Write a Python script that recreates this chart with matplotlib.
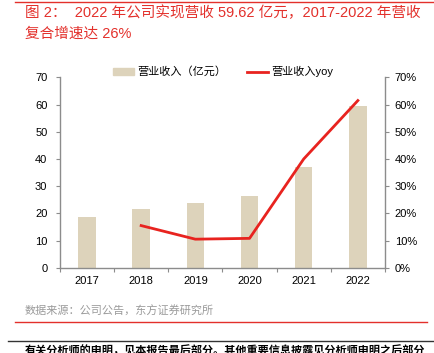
import matplotlib
matplotlib.use("Agg")
import matplotlib.pyplot as plt
from matplotlib.lines import Line2D
from matplotlib.ticker import PercentFormatter

plt.rcParams['font.family'] = ['Liberation Sans', 'Noto Sans CJK SC', 'DejaVu Sans']

# ---- Data ----
years = ['2017', '2018', '2019', '2020', '2021', '2022']
revenue = [18.6, 21.5, 23.8, 26.4, 36.9, 59.62]          # 亿元
yoy_years = ['2018', '2019', '2020', '2021', '2022']
yoy = [15.5, 10.5, 10.8, 40.0, 61.5]                      # %

title_lines = ['图 2：  2022 年公司实现营收 59.62 亿元，2017-2022 年营收',
               '复合增速达 26%']
source = '数据来源：公司公告，东方证券研究所'
footer = '有关分析师的申明，见本报告最后部分。其他重要信息披露见分析师申明之后部分'

bar_color = '#ddd3bb'
line_color = '#e8231f'
spine_color = '#8c8c8c'

# ---- Figure ----
fig = plt.figure(figsize=(4.34, 3.53), dpi=100)
ax = fig.add_axes([0.138, 0.2416, 0.749, 0.539])

x = list(range(len(years)))
ax.bar(x, revenue, width=0.32, color=bar_color, label='营业收入（亿元）', zorder=2)
ax.set_xlim(-0.5, len(years) - 0.5)
ax.set_ylim(0, 70)
ax.set_yticks(range(0, 71, 10))
ax.set_xticks([i - 0.5 for i in range(len(years) + 1)], minor=False)
ax.set_xticklabels([])
ax.set_xticks(x, minor=True)
ax.set_xticklabels(years, minor=True)
ax.tick_params(axis='x', which='minor', length=0, labelsize=8, pad=6)
ax.tick_params(axis='x', which='major', length=3, direction='out', color=spine_color)
ax.tick_params(axis='y', length=3, labelsize=8, color=spine_color, pad=6)

ax2 = ax.twinx()
yx = [years.index(y) for y in yoy_years]
ax2.plot(yx, yoy, color=line_color, lw=2, label='营业收入yoy', zorder=3)
ax2.set_ylim(0, 70)
ax2.set_yticks(range(0, 71, 10))
ax2.yaxis.set_major_formatter(PercentFormatter(decimals=0))
ax2.tick_params(axis='y', length=3, labelsize=8, color=spine_color, pad=4)

for a in (ax, ax2):
    a.spines['top'].set_visible(False)
    for s in ('left', 'right', 'bottom'):
        a.spines[s].set_color(spine_color)
        a.spines[s].set_linewidth(1.0)
ax.spines['right'].set_visible(False)
ax2.spines['left'].set_visible(False)
ax2.spines['bottom'].set_visible(False)

# ---- Legend ----
handles = [plt.Rectangle((0, 0), 1, 1, color=bar_color),
           Line2D([0], [0], color=line_color, lw=2)]
fig.legend(handles, ['营业收入（亿元）', '营业收入yoy'], loc='center',
           bbox_to_anchor=(0.514, 0.797), ncol=2, frameon=False, fontsize=8,
           handlelength=1.9, handleheight=0.6, columnspacing=1.9, handletextpad=0.3)

# ---- Title / decorations ----
red_text = '#e3302b'
fig.add_artist(Line2D([15 / 434, 1], [1 - 1.5 / 353] * 2, color=red_text, lw=1))
fig.text(25 / 434, 1 - 13 / 353, title_lines[0], color=red_text, fontsize=10.5, va='center')
fig.text(25 / 434, 1 - 34 / 353, title_lines[1], color=red_text, fontsize=10.5, va='center')

fig.text(25 / 434, 1 - 311 / 353, source, color='#9a9a9a', fontsize=8, va='center')
fig.add_artist(Line2D([15 / 434, 427 / 434], [1 - 322 / 353] * 2, color=red_text, lw=1))
fig.add_artist(Line2D([8 / 434, 1], [1 - 341 / 353] * 2, color='#333333', lw=1))
fig.text(25 / 434, 1 - 345 / 353, footer, color='black', fontsize=8,
         fontweight='bold', va='top')

fig.savefig('out.png', dpi=100)
